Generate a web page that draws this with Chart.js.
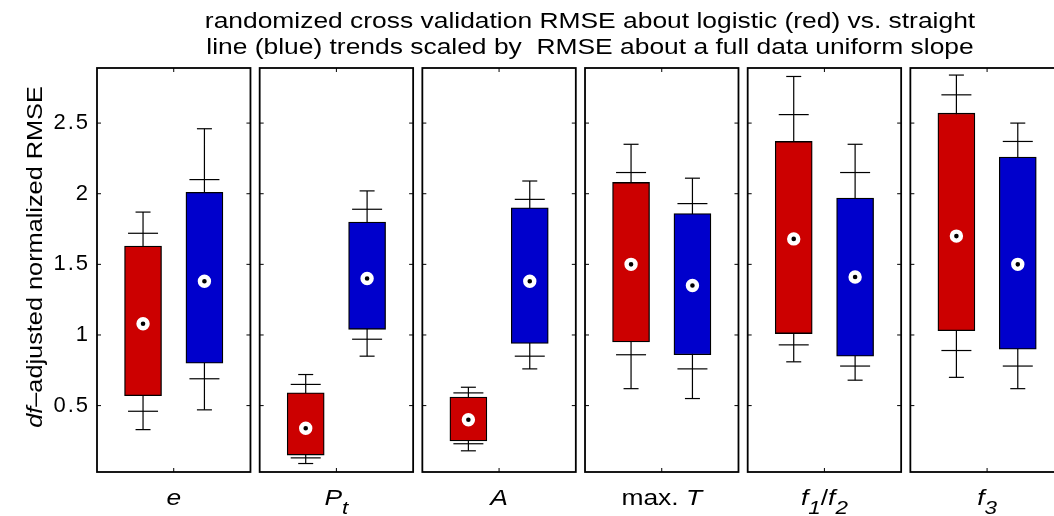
<!DOCTYPE html>
<html>
<head>
<meta charset="utf-8">
<script src="https://cdn.jsdelivr.net/npm/chart.js@4.4.0/dist/chart.umd.min.js"></script>
<style>
  html, body { margin: 0; padding: 0; background: #fff; }
  #wrap { width: 1054px; height: 516px; }
</style>
</head>
<body>
<div id="wrap"><canvas id="rmseChart" width="1054" height="516"></canvas></div>
<script>
// one panel per predictor; parts are [text, style] where i = italic, s = subscript
const categories = ['e', 'P_t', 'A', 'max. T', 'f_1/f_2', 'f_3'];
const categoryParts = [
  [['e', 'i']],
  [['P', 'i'], ['t', 'is']],
  [['A', 'i']],
  [['max. ', ''], ['T', 'i']],
  [['f', 'i'], ['1', 'is'], ['/', ''], ['f', 'i'], ['2', 'is']],
  [['f', 'i'], ['3', 'is']]
];
const titleLines = [
  'randomized cross validation RMSE about logistic (red) vs. straight',
  'line (blue) trends scaled by  RMSE about a full data uniform slope'
];
const yLabelParts = [['df', 'i'], ['\u2013adjusted normalized RMSE', '']];
const yTicks = [0.5, 1, 1.5, 2, 2.5];

// logistic trend (red) box statistics per panel
const logWhiskerLo = [0.33, 0.09, 0.18, 0.62, 0.81, 0.70];
const logCapLo     = [0.46, 0.13, 0.23, 0.86, 0.93, 0.89];
const logQ1        = [0.57, 0.15, 0.25, 0.95, 1.01, 1.03];
const logMedian    = [1.08, 0.34, 0.40, 1.50, 1.68, 1.70];
const logQ3        = [1.63, 0.59, 0.56, 2.08, 2.37, 2.57];
const logCapHi     = [1.72, 0.65, 0.59, 2.15, 2.56, 2.70];
const logWhiskerHi = [1.87, 0.72, 0.63, 2.35, 2.83, 2.84];

// straight line trend (blue) box statistics per panel
const linWhiskerLo = [0.47, 0.85, 0.76, 0.55, 0.68, 0.62];
const linCapLo     = [0.69, 0.97, 0.85, 0.76, 0.78, 0.78];
const linQ1        = [0.80, 1.04, 0.94, 0.86, 0.85, 0.90];
const linMedian    = [1.38, 1.40, 1.38, 1.35, 1.41, 1.50];
const linQ3        = [2.01, 1.80, 1.90, 1.86, 1.97, 2.26];
const linCapHi     = [2.10, 1.89, 1.96, 1.93, 2.15, 2.37];
const linWhiskerHi = [2.46, 2.02, 2.09, 2.11, 2.35, 2.50];

// panel geometry in x units: boxes sit at 1 and 2 inside [0.25, 2.75]
const PANEL_PITCH = 2.65;
const PANEL_LO = 0.25, PANEL_HI = 2.75;
const RED = '#cc0000', BLUE = '#0000cc';
const FONT = '"Liberation Sans", Arial, Helvetica, sans-serif';

const xPos = (i, slot) => i * PANEL_PITCH + slot;

function boxData(lo, hi, slot) {
  return lo.map((v, i) => ({ x: xPos(i, slot), y: [v, hi[i]] }));
}
function capData(lo, hi, slot) {
  const pts = [];
  lo.forEach((v, i) => pts.push({ x: xPos(i, slot), y: v }, { x: xPos(i, slot), y: hi[i] }));
  return pts;
}
function pointData(vals, slot) {
  return vals.map((v, i) => ({ x: xPos(i, slot), y: v }));
}
function whiskerData(lo, hi, slot) {
  const pts = [];
  lo.forEach((v, i) => {
    pts.push({ x: xPos(i, slot), y: v }, { x: xPos(i, slot), y: hi[i] }, { x: xPos(i, slot), y: null });
  });
  return pts;
}

function seriesDatasets(name, color, slot, s) {
  return [
    { type: 'line', label: name + ' whiskers', data: whiskerData(s.wLo, s.wHi, slot),
      borderColor: '#000', borderWidth: 1.2, pointRadius: 0, spanGaps: false, order: 6 },
    { type: 'scatter', label: name + ' inner caps', data: capData(s.cLo, s.cHi, slot),
      pointStyle: 'line', pointRadius: 15, borderColor: '#000', borderWidth: 1.2, order: 5 },
    { type: 'scatter', label: name + ' outer caps', data: capData(s.wLo, s.wHi, slot),
      pointStyle: 'line', pointRadius: 7.5, borderColor: '#000', borderWidth: 1.2, order: 5 },
    { type: 'bar', label: name, data: boxData(s.q1, s.q3, slot), backgroundColor: color,
      borderColor: '#000', borderWidth: 1.3, borderSkipped: false, barThickness: 37, grouped: false, order: 3 },
    { type: 'scatter', label: name + ' median', data: pointData(s.med, slot),
      pointStyle: 'circle', pointRadius: 4.5, borderWidth: 4.4, borderColor: '#fff', backgroundColor: '#000', order: 1 }
  ];
}

function partFont(style, size) {
  const sz = style.includes('s') ? size * 0.85 : size;
  return (style.includes('i') ? 'italic ' : '') + sz + 'px ' + FONT;
}
// draws a run of styled pieces centred on (cx, baseline), stretched along the baseline
// (the plot's Helvetica runs wider than Liberation Sans)
function drawParts(ctx, parts, cx, baseline, size, stretch) {
  ctx.save();
  ctx.translate(cx, baseline);
  ctx.scale(stretch, 1);
  let total = 0;
  parts.forEach(([t, st]) => { ctx.font = partFont(st, size); total += ctx.measureText(t).width; });
  let px = -total / 2;
  parts.forEach(([t, st]) => {
    ctx.font = partFont(st, size);
    ctx.fillText(t, px, st.includes('s') ? 9 : 0);
    px += ctx.measureText(t).width;
  });
  ctx.restore();
}

// panel boxes with inward ticks, plus title and axis labels
const panelDecor = {
  id: 'panelDecor',
  beforeDraw(chart) {
    // widen the axis tick numbers to the same running width
    chart.ctx.letterSpacing = '2px';
  },
  afterDatasetsDraw(chart) {
    const { ctx, chartArea: { top, bottom }, scales: { x, y } } = chart;
    ctx.save();
    ctx.strokeStyle = '#000';
    categories.forEach((_, i) => {
      const x0 = x.getPixelForValue(xPos(i, PANEL_LO));
      const x1 = x.getPixelForValue(xPos(i, PANEL_HI));
      const mid = x.getPixelForValue(xPos(i, (PANEL_LO + PANEL_HI) / 2));
      ctx.lineWidth = 1;
      ctx.beginPath();
      yTicks.forEach(v => {
        const py = y.getPixelForValue(v);
        ctx.moveTo(x0, py); ctx.lineTo(x0 + 4, py);
        ctx.moveTo(x1, py); ctx.lineTo(x1 - 4, py);
      });
      ctx.moveTo(mid, top); ctx.lineTo(mid, top + 4);
      ctx.moveTo(mid, bottom); ctx.lineTo(mid, bottom - 4);
      ctx.stroke();
      ctx.lineWidth = 1.8;
      ctx.strokeRect(x0, top, x1 - x0, bottom - top);
    });
    ctx.restore();
  },
  afterDraw(chart) {
    const { ctx, scales: { x } } = chart;
    ctx.save();
    ctx.letterSpacing = '0px';
    ctx.fillStyle = '#000';
    ctx.textAlign = 'left';
    ctx.textBaseline = 'alphabetic';
    drawParts(ctx, [[titleLines[0], '']], 590, 28, 22, 1.2);
    drawParts(ctx, [[titleLines[1], '']], 590, 54, 22, 1.2);
    categoryParts.forEach((parts, i) => {
      drawParts(ctx, parts, x.getPixelForValue(xPos(i, 1.5)), 505, 22, 1.2);
    });
    ctx.translate(42, 257);
    ctx.rotate(-Math.PI / 2);
    drawParts(ctx, yLabelParts, 0, 0, 22, 1.15);
    ctx.restore();
  }
};

const datasets = [].concat(
  seriesDatasets('logistic', RED, 1, { wLo: logWhiskerLo, cLo: logCapLo, q1: logQ1, med: logMedian, q3: logQ3, cHi: logCapHi, wHi: logWhiskerHi }),
  seriesDatasets('straight line', BLUE, 2, { wLo: linWhiskerLo, cLo: linCapLo, q1: linQ1, med: linMedian, q3: linQ3, cHi: linCapHi, wHi: linWhiskerHi })
);

new Chart(document.getElementById('rmseChart'), {
  type: 'bar',
  data: { datasets },
  plugins: [panelDecor],
  options: {
    responsive: false,
    devicePixelRatio: 1,
    animation: false,
    layout: { autoPadding: false, padding: { left: 0, right: 0, top: 68, bottom: 44 } },
    plugins: { legend: { display: false }, tooltip: { enabled: false }, title: { display: false } },
    scales: {
      x: {
        type: 'linear', display: false, offset: false,
        min: 0.25, max: 15.84
      },
      y: {
        min: 0.03, max: 2.89,
        grid: { display: false, drawTicks: false },
        border: { display: false },
        afterFit: s => { s.width = 97; },
        afterBuildTicks: s => { s.ticks = yTicks.map(v => ({ value: v })); },
        ticks: { padding: 7, color: '#000', font: { family: FONT, size: 22 }, callback: v => String(v) }
      }
    }
  }
});
</script>
</body>
</html>
